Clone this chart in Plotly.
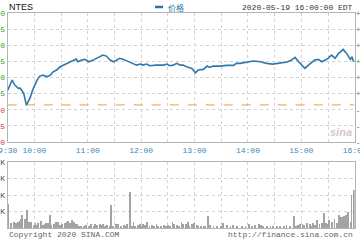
import plotly.graph_objects as go

# ---- data ----
symbol = "NTES"
timestamp = "2020-05-19 16:00:00 EDT"
prev_close = 335.75

price_min = [0,3,5,8,12,14,18,21,25,28,
             33,36,40,44,48,51,55,59,63,66,
             70,74,77,79,83,87,91,96,100,104,
             107,111,115,119,123,126,130,134,137,141,
             145,149,152,156,160,167,175,179,182,186,
             190,194,197,201,207,211,214,220,224,227,
             231,239,246,254,257,261,269,276,284,291,
             298,306,314,319,323,327,330,334,338,342,
             345,349,353,357,360,364,368,372,377,381,
             385,387,388,390]
price = [338.04,338.97,339.60,338.82,338.31,338.35,337.53,335.71,336.80,338.04,
         339.60,340.22,340.37,340.11,340.37,340.88,341.15,341.66,341.92,342.19,
         342.44,342.70,342.86,342.44,342.70,342.81,342.44,342.70,342.97,343.21,
         343.48,343.32,342.70,342.44,342.81,342.97,342.81,342.59,342.44,342.19,
         341.92,342.08,341.92,342.08,341.82,341.92,341.92,342.08,341.82,341.92,
         342.19,341.92,341.92,341.66,341.41,340.73,341.15,341.26,341.77,341.57,
         341.77,341.77,341.88,341.88,342.19,342.19,342.44,342.55,342.44,342.19,
         342.08,342.28,342.39,342.70,343.12,342.44,341.92,341.41,341.92,342.44,
         342.70,342.81,342.44,342.70,342.97,343.48,342.97,343.74,344.36,343.74,
         342.81,343.21,342.70,342.44]

vol_min = [0,3,4,7,9,11,13,15,16,19,21,22,24,26,29,31,33,34,37,39,41,43,45,47,49,52,54,56,58,61,
           64,66,67,70,72,74,76,78,80,82,85,88,91,93,96,98,100,103,105,107,109,111,114,116,118,121,124,127,130,132,
           134,137,139,141,143,146,148,150,152,154,156,159,162,164,167,169,172,175,178,180,182,185,187,190,192,195,197,200,202,204,
           207,209,212,214,217,220,222,225,227,231,235,239,242,246,250,253,257,263,267,271,274,278,282,284,287,291,295,298,302,306,
           310,313,317,321,324,326,328,331,333,336,339,341,343,345,347,350,353,355,357,360,361,364,367,370,372,374,376,378,380,382,
           385,386,389]
vol_k = [2.91,0.65,0.57,0.77,0.65,0.77,0.89,1.05,1.58,1.05,2.18,2.18,0.77,0.77,0.36,0.57,0.36,0.65,0.85,0.36,0.44,0.57,0.57,1.62,0.36,0.48,0.77,0.77,0.36,0.48,
         0.57,0.77,0.89,0.57,0.97,0.77,0.48,0.48,0.24,0.16,0.24,0.36,0.24,0.48,0.24,0.48,0.36,0.48,0.40,0.48,0.16,0.36,0.24,2.79,0.24,0.44,0.44,0.24,0.36,0.24,
         0.44,4.36,0.24,0.69,0.24,0.36,0.48,0.24,0.44,0.36,0.69,0.16,0.36,0.16,0.44,0.24,0.24,0.36,0.24,0.36,0.24,0.69,0.44,0.36,0.24,0.69,0.48,0.44,0.69,0.24,
         0.44,0.57,0.36,0.24,0.24,0.24,0.24,1.45,0.36,0.16,0.24,0.16,0.65,0.36,0.24,0.36,0.24,0.24,0.24,0.48,0.24,0.36,0.44,0.36,0.24,0.24,0.16,0.24,0.24,0.24,
         0.16,0.36,0.24,1.49,0.24,0.36,0.48,0.44,0.36,0.65,0.44,0.24,0.65,0.36,0.97,0.44,0.57,1.78,0.65,0.44,0.97,0.77,1.05,0.57,1.58,1.29,1.29,1.45,1.58,1.98,
         0.77,4.00,4.61]

price_ticks = [330.0, 332.5, 335.0, 337.5, 340.0, 342.5, 345.0, 347.5, 350.0]
time_ticks = [0,30,60,90,120,150,180,210,240,270,300,330,360,390]
time_labels = ["9:30","10:00","","11:00","","12:00","","13:00","","14:00","","15:00","","16:00"]
vol_ticks = [0, 2, 4, 6, 8]
vol_labels = ["", "2K", "4K", "6K", "8K"]

GREEN = "#3a9a3a"
RED = "#cc3b3b"
BLUE = "#2f78ad"
MONO = "Liberation Mono"

def colored(v, txt):
    c = GREEN if v >= prev_close else RED
    return f'<span style="color:{c}">{txt}</span>'

left_text = [colored(v, f"{v:.1f}") for v in price_ticks]
right_text = [colored(v, f"{(v - prev_close) / prev_close * 100:+.2f}%") for v in price_ticks]

W, H = 360, 240
x0, x1 = 7.7 / W, 354.7 / W
py0, py1 = 1 - 142 / H, 1 - 13 / H
vy0, vy1 = 1 - 228 / H, 1 - 162 / H

fig = go.Figure()
fig.add_trace(go.Scatter(x=[0, 390], y=[prev_close, prev_close], mode="lines",
                         line=dict(color="#e3a535", width=1, dash="dash"),
                         xaxis="x", yaxis="y", hoverinfo="skip"))
fig.add_trace(go.Scatter(x=price_min, y=price, mode="lines",
                         line=dict(color=BLUE, width=1.6),
                         xaxis="x", yaxis="y"))
fig.add_trace(go.Scatter(x=[0], y=[price_ticks[0]], mode="markers", marker=dict(opacity=0),
                         xaxis="x", yaxis="y3", hoverinfo="skip"))
fig.add_trace(go.Bar(x=vol_min, y=vol_k, width=0.9,
                     marker=dict(color="#a3a3a3", line=dict(width=0)),
                     xaxis="x2", yaxis="y2"))

grid = dict(showgrid=True, gridcolor="#d2d2d2", griddash="dot", gridwidth=1,
            showline=True, linecolor="#b5b5b5", linewidth=1, mirror=True,
            zeroline=False, ticks="", fixedrange=True, ticklabeloverflow="allow")

fig.update_layout(
    width=W, height=H, margin=dict(l=0, r=0, t=0, b=0),
    paper_bgcolor="white", plot_bgcolor="white", showlegend=False,
    bargap=0,
    xaxis=dict(domain=[x0, x1], range=[0, 390], tickmode="array",
               tickvals=time_ticks, ticktext=time_labels,
               tickfont=dict(family=MONO, size=8, color="#3b87bd"),
               anchor="y", automargin=False, **grid),
    yaxis=dict(domain=[py0, py1], range=[price_ticks[0], price_ticks[-1]],
               tickmode="array", tickvals=price_ticks, ticktext=left_text,
               tickfont=dict(family=MONO, size=8),
               anchor="x", automargin=False, **grid),
    yaxis3=dict(domain=[py0, py1], range=[price_ticks[0], price_ticks[-1]],
                overlaying="y", side="right", anchor="x",
                tickmode="array", tickvals=price_ticks, ticktext=right_text,
                tickfont=dict(family=MONO, size=8), showgrid=False,
                showline=False, zeroline=False, automargin=False, fixedrange=True,
                ticklabeloverflow="allow"),
    xaxis2=dict(domain=[x0, x1], range=[0, 390], tickmode="array",
                tickvals=time_ticks, showticklabels=False,
                anchor="y2", automargin=False, **grid),
    yaxis2=dict(domain=[vy0, vy1], range=[0, 8], tickmode="array",
                tickvals=vol_ticks, ticktext=vol_labels,
                tickfont=dict(family=MONO, size=8, color="#555"),
                anchor="x2", automargin=False, **grid),
)

ann = [
    dict(text=symbol, x=7 / W, y=1 - 7 / H, xanchor="left", yanchor="middle",
         font=dict(family="Liberation Sans", size=9, color="#111")),
    dict(text="价格", x=166 / W, y=1 - 7 / H, xanchor="left", yanchor="middle",
         font=dict(family="Noto Sans CJK SC", size=8, color="#2673aa")),
    dict(text=timestamp, x=355 / W, y=1 - 7 / H, xanchor="right", yanchor="middle",
         font=dict(family=MONO, size=8, color="#333")),
    dict(text="Copyright 2020 SINA.COM", x=7 / W, y=1 - 234 / H, xanchor="left", yanchor="middle",
         font=dict(family=MONO, size=8, color="#666")),
    dict(text="http://finance.sina.com.cn", x=355 / W, y=1 - 234 / H, xanchor="right", yanchor="middle",
         font=dict(family=MONO, size=8, color="#666")),
    dict(text="<i><b>sina</b></i>", x=341 / W, y=1 - 132 / H, xanchor="center", yanchor="middle",
         font=dict(family="Liberation Sans", size=11, color="rgba(190,140,140,0.55)")),
]
for a in ann:
    a.update(xref="paper", yref="paper", showarrow=False)
fig.update_layout(annotations=ann)

fig.add_shape(type="line", xref="paper", yref="paper",
              x0=155 / W, x1=163 / W, y0=1 - 7 / H, y1=1 - 7 / H,
              line=dict(color="#2673aa", width=2.5))

fig.write_html("out.html")
